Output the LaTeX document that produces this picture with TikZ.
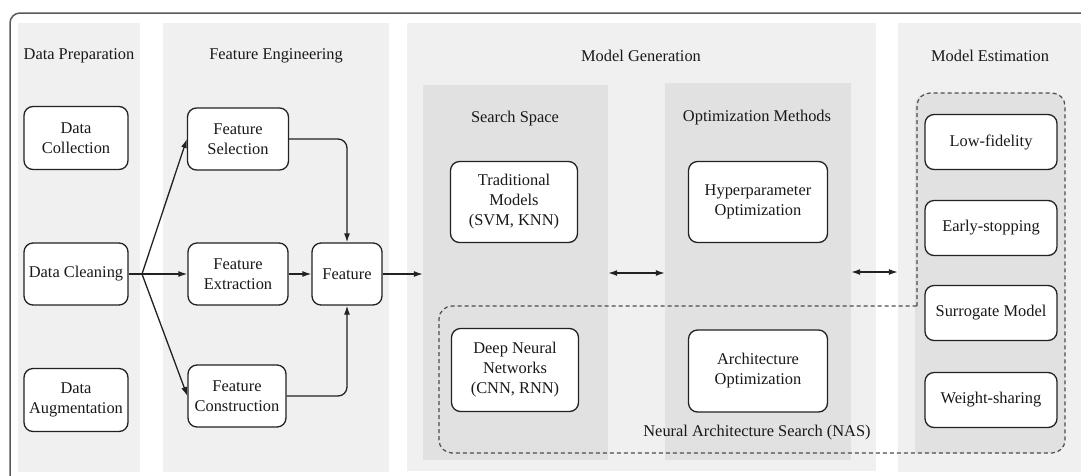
\documentclass[tikz,border=0pt]{standalone}
\usepackage{fontspec}
\setmainfont{Liberation Serif}
\usetikzlibrary{arrows.meta,fit}
\definecolor{colbg}{HTML}{F0F0F0}
\definecolor{inbg}{HTML}{E1E1E1}
\definecolor{framec}{HTML}{5A5A5A}
\definecolor{linec}{HTML}{222222}
\begin{document}
\begin{tikzpicture}[x=1pt,y=-1pt,
  font=\fontsize{16.4}{20}\selectfont,
  box/.style={draw=linec, line width=1.3pt, fill=white, rounded corners=9pt, align=center, inner sep=0pt, text=black!90},
  region/.style={inner sep=0pt, draw=none},
  ttl/.style={text=black!90, inner sep=0pt},
  arr/.style={-{Latex[length=9pt,width=6pt]}, line width=1.3pt, draw=linec},
  darr/.style={{Latex[length=9pt,width=6pt]}-{Latex[length=9pt,width=6pt]}, line width=1.3pt, draw=linec},
  nas/.style={draw=black!70, line width=1.2pt, dash pattern=on 4pt off 3pt}]
\clip (0,0) rectangle (1081,475);
\fill[white] (0,0) rectangle (1081,475);
\draw[framec, line width=1.5pt, rounded corners=10pt] (10,13) rectangle (1110,510);
% columns
\node[region, fill=colbg, fit={(18,23) (140,472)}] (colDP) {};
\node[region, fill=colbg, fit={(163,23) (389,472)}] (colFE) {};
\node[region, fill=colbg, fit={(407,23) (876,471)}] (colMG) {};
\node[region, fill=colbg, fit={(898,23) (1081,472)}] (colME) {};
\node[region, fill=inbg, fit={(423,85) (608,460)}] (ss) {};
\node[region, fill=inbg, fit={(665,83) (851,460)}] (om) {};
\fill[inbg, rounded corners=12pt] (915,453) -- (915,93) -- (1065,93) -- (1065,453) -- cycle;
\fill[inbg] (915,430) rectangle (930,453);
% dashed NAS / estimation region
\draw[nas] (917,306) [rounded corners=13pt] -- (917,93) -- (1065,93) -- (1065,453) -- (439,453) -- (439,306) -- (917,306);
% titles
\node[ttl] (tDP) at (79,56) {Data Preparation};
\node[ttl] (tFE) at (276,56) {Feature Engineering};
\node[ttl] (tMG) at (641,56) {Model Generation};
\node[ttl] (tME) at (990,56) {Model Estimation};
\node[ttl] (tSS) at (515,119) {Search Space};
\node[ttl] (tOM) at (757,118) {Optimization Methods};
\node[ttl] (tNAS) at (757,433) {Neural Architecture Search (NAS)};
% boxes
\node[box, minimum width=104pt, minimum height=63pt] (dc) at (76,138) {Data\\Collection};
\node[box, minimum width=104pt, minimum height=62pt] (dcl) at (76,274) {Data Cleaning};
\node[box, minimum width=104pt, minimum height=63pt] (da) at (76,400) {Data\\Augmentation};
\node[box, minimum width=101pt, minimum height=62pt] (fs) at (238,139) {Feature\\Selection};
\node[box, minimum width=100pt, minimum height=62pt] (fe) at (238,274) {Feature\\Extraction};
\node[box, minimum width=98pt, minimum height=62pt] (fc) at (237,396) {Feature\\Construction};
\node[box, minimum width=70pt, minimum height=62pt] (feat) at (347,274) {Feature};
\node[box, minimum width=127pt, minimum height=81pt] (tm) at (514,202) {Traditional\\Models\\(SVM, KNN)};
\node[box, minimum width=127pt, minimum height=83pt] (dnn) at (515,370) {Deep Neural\\Networks\\(CNN, RNN)};
\node[box, minimum width=139pt, minimum height=81pt] (hpo) at (758,202) {Hyperparameter\\Optimization};
\node[box, minimum width=139pt, minimum height=82pt] (ao) at (758,371) {Architecture\\Optimization};
\node[box, minimum width=132pt, minimum height=55pt] (lf) at (991,142) {Low-fidelity};
\node[box, minimum width=132pt, minimum height=55pt] (es) at (991,228) {Early-stopping};
\node[box, minimum width=132pt, minimum height=55pt] (sm) at (991,313) {Surrogate Model};
\node[box, minimum width=132pt, minimum height=55pt] (ws) at (991,400) {Weight-sharing};
% connectors
\coordinate (split) at (142,274);
\draw[line width=1.3pt, draw=linec] (dcl.east) -- (split);
\draw[arr] (split) -- (fs.west);
\draw[arr] (split) -- (fe.west);
\draw[arr] (split) -- (fc.west);
\draw[arr] (fe) -- (feat);
\draw[arr, rounded corners=9pt] (fs.east) -| (feat.north);
\draw[arr, rounded corners=9pt] (fc.east) -| (feat.south);
\draw[arr] (feat.east) -- (feat.east -| ss.west);
\draw[darr] (ss.east |- 0,273) -- (om.west |- 0,273);
\draw[darr] (om.east |- 0,272) -- (colME.west |- 0,272);
\end{tikzpicture}
\end{document}
